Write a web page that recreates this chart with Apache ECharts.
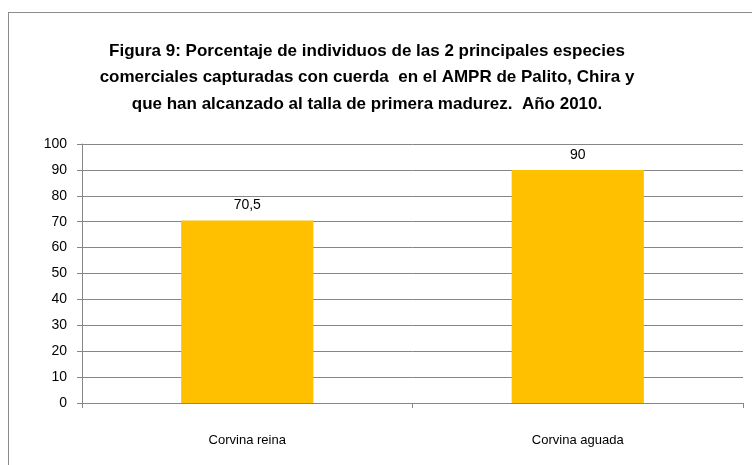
<!DOCTYPE html>
<html>
<head>
<meta charset="utf-8">
<script src="https://cdn.jsdelivr.net/npm/echarts@6/dist/echarts.min.js"></script>
<style>
  html, body { margin: 0; padding: 0; background: #fff; }
  #frame { position: absolute; left: 8px; top: 12px; width: 760px; height: 470px; border: 1px solid #8c8c8c; box-sizing: border-box; }
  #main { position: absolute; left: 0; top: 0; width: 752px; height: 465px; }
</style>
</head>
<body>
<div id="frame"></div>
<div id="main"></div>
<script>
// datos
var categories = ['Corvina reina', 'Corvina aguada'];
var values = [70.5, 90];

var titleText = 'Figura 9: Porcentaje de individuos de las 2 principales especies\n' +
  'comerciales capturadas con cuerda  en el AMPR de Palito, Chira y\n' +
  'que han alcanzado al talla de primera madurez.  Año 2010.';

var chart = echarts.init(document.getElementById('main'));
chart.setOption({
  animation: false,
  textStyle: { fontFamily: 'Liberation Sans, sans-serif' },
  title: {
    text: titleText,
    left: 362,
    textAlign: 'center',
    top: 33,
    textStyle: {
      fontSize: 17,
      fontWeight: 'bold',
      lineHeight: 26.5,
      color: '#000',
      fontFamily: 'Liberation Sans, sans-serif'
    }
  },
  grid: { left: 82, right: 9, top: 144, bottom: 62 },
  xAxis: {
    type: 'category',
    data: categories,
    axisLine: { lineStyle: { color: '#868686' } },
    axisTick: { show: true, length: 5, lineStyle: { color: '#868686' } },
    axisLabel: { color: '#000', fontSize: 13, margin: 31, fontFamily: 'Liberation Sans, sans-serif' }
  },
  yAxis: {
    type: 'value',
    min: 0,
    max: 100,
    interval: 10,
    axisLine: { show: true, lineStyle: { color: '#868686' } },
    axisTick: { show: true, length: 5, lineStyle: { color: '#868686' } },
    axisLabel: { color: '#000', fontSize: 14, margin: 15, fontFamily: 'Liberation Sans, sans-serif' },
    splitLine: { lineStyle: { color: '#868686' } }
  },
  series: [{
    type: 'bar',
    data: values,
    barWidth: '40%',
    itemStyle: { color: '#FFC000' },
    label: {
      show: true,
      position: 'top',
      distance: 8,
      color: '#000',
      fontSize: 14,
      fontFamily: 'Liberation Sans, sans-serif',
      formatter: function (p) { return String(p.value).replace('.', ','); }
    }
  }]
});
</script>
</body>
</html>
